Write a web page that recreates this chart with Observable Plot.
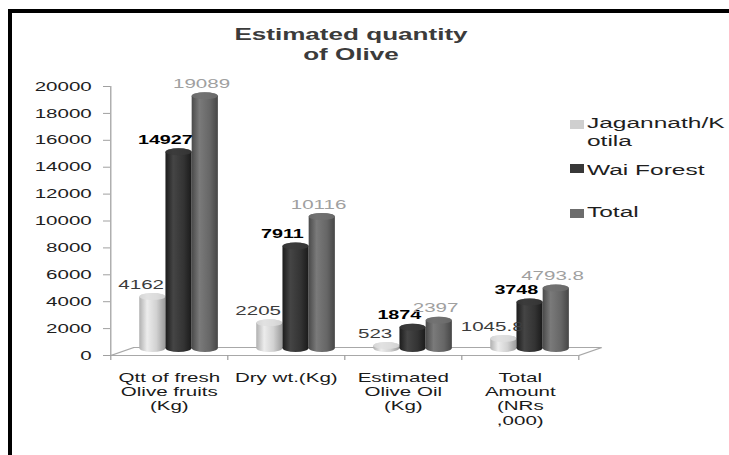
<!DOCTYPE html>
<html>
<head>
<meta charset="utf-8">
<script src="https://cdn.jsdelivr.net/npm/d3@7"></script>
<script src="https://cdn.jsdelivr.net/npm/@observablehq/plot@0.6"></script>
<style>
  html, body { margin: 0; padding: 0; background: #fff; overflow: hidden; width: 729px; height: 455px; }
  #wrap { position: relative; width: 729px; height: 455px; overflow: hidden; background: #fff;
          font-family: "Liberation Sans", Arial, sans-serif; }
  #chart { position: absolute; left: 0; top: 0; z-index: 1; transform-origin: 0 0; }
  .bar-top { position: absolute; left: 8px; top: 9px; width: 721px; height: 3.5px; background: #000; z-index: 3; }
  .bar-left { position: absolute; left: 8px; top: 9px; width: 4px; height: 446px; background: #000; z-index: 3; }
  #title { position: absolute; left: 151px; width: 400px; top: 24px; text-align: center;
           font-weight: bold; font-size: 16.5px; line-height: 20.3px; color: #3b3b3b;
           transform: scaleX(1.58); transform-origin: 50% 0; z-index: 2; }
  .legtext { position: absolute; left: 587px; font-size: 15.5px; line-height: 18px; color: #1e1e1e;
             white-space: nowrap; transform: scaleX(1.58); transform-origin: 0 0; z-index: 2; }
  .sw { position: absolute; left: 570px; width: 14px; height: 9px; z-index: 2; }
</style>
</head>
<body>
<div id="wrap">
  <div id="chart"></div>
  <div id="title">Estimated quantity<br>of Olive</div>
  <div id="legend"></div>
  <div class="bar-top"></div>
  <div class="bar-left"></div>
</div>
<script>
// ---- data ----
const categories = ["Qtt of fresh\nOlive fruits\n(Kg)", "Dry wt.(Kg)", "Estimated\nOlive Oil\n(Kg)", "Total\nAmount\n(NRs\n,000)"];
const seriesNames = ["Jagannath/Kotila", "Wai Forest", "Total"];
const jagannath = [4162, 2205, 523, 1045.8];
const waiForest = [14927, 7911, 1874, 3748];
const total = [19089, 10116, 2397, 4793.8];
const yTicks = [0, 2000, 4000, 6000, 8000, 10000, 12000, 14000, 16000, 18000, 20000];

const values = [jagannath, waiForest, total];
const rows = categories.flatMap((c, i) => seriesNames.map((s, j) => ({cat: c, i, j, series: s, value: values[j][i]})));

// ---- layout: the reference lettering is stretched horizontally, so the plot is
// drawn narrower and widened as a whole ----
const W = 461, S = 729 / W;
const grads = ["url(#g0)", "url(#g1)", "url(#g2)"];
const capFill = ["#dedede", "#3a3a3a", "#707070"];
const labelFill = ["#3c3c3c", "#000000", "#a0a0a0"];
const labelWeight = ["normal", "bold", "normal"];
const labelSize = [13, 12.5, 13];
const labelDx = [-12, -14, -4];
const swatch = ["#cfcfcf", "#383838", "#6c6c6c"];
const barStart = 0.25, barW = 0.224;   // position of a bar inside its category band
const depthX = 0.197, depthY = 595;    // 3-D floor depth

const barMarks = seriesNames.flatMap((s, j) => {
  const d = rows.filter(r => r.j === j);
  return [
    Plot.rect(d, {x1: r => r.i + barStart + barW * j, x2: r => r.i + barStart + barW * (j + 1),
      y1: () => 0, y2: "value", fill: grads[j], rx: 13 / S, ry: 4, dy: -3, insetTop: -3}),
    Plot.rect(d, {x1: r => r.i + barStart + barW * j, x2: r => r.i + barStart + barW * (j + 1),
      y1: "value", y2: "value", fill: capFill[j], rx: 13 / S, ry: 4, dy: -3, insetTop: -3, insetBottom: -4, fillOpacity: 0.8})
  ];
});
const labelMarks = seriesNames.map((s, j) =>
  Plot.text(rows.filter(r => r.j === j), {
    x: r => r.i + barStart + barW * (j + 0.5), y: "value", text: r => String(r.value),
    dy: -15, dx: labelDx[j] / S, fill: labelFill[j], fontWeight: labelWeight[j], fontSize: labelSize[j]
  })
);

const plot = Plot.plot({
  width: W, height: 455,
  marginLeft: 110 / S, marginRight: 151 / S, marginTop: 86, marginBottom: 100,
  x: {type: "linear", domain: [0, categories.length]},
  y: {domain: [0, 20000]},
  style: {fontFamily: "'Liberation Sans', Arial, sans-serif", fontSize: "13px", background: "transparent", color: "#1e1e1e", overflow: "visible"},
  marks: [
    // floor
    Plot.ruleY([0], {stroke: "#a8a8a8", dx: 23 / S, dy: -8}),
    Plot.link([0, categories.length], {x1: d => d, y1: () => 0, x2: d => d + depthX, y2: () => depthY, stroke: "#a8a8a8"}),
    Plot.ruleY([0], {stroke: "#a8a8a8"}),
    // axes
    Plot.ruleX([0], {stroke: "#a0a0a0", strokeWidth: 0.8}),
    Plot.axisY({ticks: yTicks, tickFormat: "d", tickSize: 7 / S, tickPadding: 12 / S, stroke: "#a0a0a0", fill: "#1e1e1e", fontSize: 13, label: null}),
    Plot.axisX({ticks: d3.range(0, categories.length + 1), tickFormat: () => "", tickSize: 5, stroke: "#a0a0a0", strokeWidth: 0.8, label: null}),
    Plot.text(categories, {x: (d, i) => i + 0.5, y: () => 0, text: d => d, lineAnchor: "top", dy: 16,
      fontSize: 13, lineHeight: 1.1, fill: "#1a1a1a"}),
    ...barMarks,
    ...labelMarks
  ]
});

plot.insertAdjacentHTML("afterbegin", `<defs>
 <linearGradient id="g0" x1="0" x2="1" y1="0" y2="0">
  <stop offset="0" stop-color="#b0b0b0"/><stop offset="0.3" stop-color="#ececec"/>
  <stop offset="0.65" stop-color="#d2d2d2"/><stop offset="1" stop-color="#9a9a9a"/></linearGradient>
 <linearGradient id="g1" x1="0" x2="1" y1="0" y2="0">
  <stop offset="0" stop-color="#1c1c1c"/><stop offset="0.3" stop-color="#454545"/>
  <stop offset="0.7" stop-color="#333"/><stop offset="1" stop-color="#1a1a1a"/></linearGradient>
 <linearGradient id="g2" x1="0" x2="1" y1="0" y2="0">
  <stop offset="0" stop-color="#4a4a4a"/><stop offset="0.3" stop-color="#7a7a7a"/>
  <stop offset="0.7" stop-color="#666"/><stop offset="1" stop-color="#464646"/></linearGradient>
</defs>`);

const chart = document.getElementById("chart");
chart.appendChild(plot);
chart.style.transform = `scaleX(${S})`;

// legend
const legTops = [113.6, 160.6, 203.3];
const swTops = [119.5, 164, 208.5];
const legLabels = ["Jagannath/K<br>otila", "Wai Forest", "Total"];
const leg = document.getElementById("legend");
seriesNames.forEach((s, j) => {
  leg.insertAdjacentHTML("beforeend",
    `<div class="sw" style="top:${swTops[j]}px;background:${swatch[j]}"></div>` +
    `<div class="legtext" style="top:${legTops[j]}px">${legLabels[j]}</div>`);
});
</script>
</body>
</html>
